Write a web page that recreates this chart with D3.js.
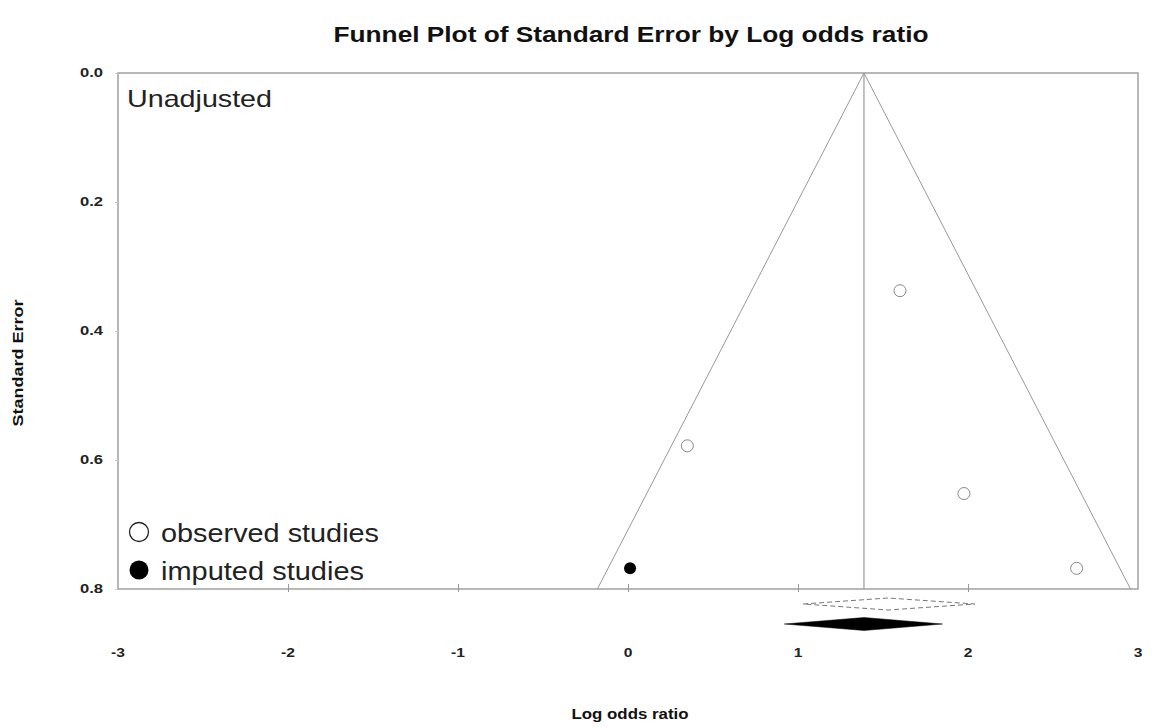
<!DOCTYPE html>
<html>
<head>
<meta charset="utf-8">
<script src="https://cdn.jsdelivr.net/npm/d3@7"></script>
<style>
  html, body { margin: 0; padding: 0; background: #fff; }
  svg { display: block; font-family: "Liberation Sans", Arial, sans-serif; }
</style>
</head>
<body>
<svg id="chart" width="1152" height="727"></svg>
<script>
// ---- data ----
const observedLogOR = [1.60, 0.349, 1.976, 2.639];
const observedSE    = [0.3375, 0.578, 0.652, 0.768];
const imputedLogOR  = [0.012];
const imputedSE     = [0.768];
const pooledEstimate = 1.388;          // funnel centre (unadjusted)
const observedDiamond = [1.03, 1.53, 2.04];   // lower, estimate, upper (dashed)
const combinedDiamond = [0.92, 1.388, 1.85];  // lower, estimate, upper (filled)
const xTicks = [-3, -2, -1, 0, 1, 2, 3];
const yTicks = [0.0, 0.2, 0.4, 0.6, 0.8];
const titleText = "Funnel Plot of Standard Error by Log odds ratio";
const xTitle = "Log odds ratio";
const yTitle = "Standard Error";
const panelLabel = "Unadjusted";
const legendLabels = ["observed studies", "imputed studies"];

// ---- layout ----
const svg = d3.select("#chart");
const pLeft = 118, pRight = 1138, pTop = 73, pBottom = 589;
const x = d3.scaleLinear().domain([-3, 3]).range([pLeft, pRight]);
const y = d3.scaleLinear().domain([0, 0.8]).range([pTop, pBottom]);
const gray = "#a0a0a0";

function stretch(sel, factor) {
  sel.each(function () {
    const w = this.getComputedTextLength();
    this.setAttribute("textLength", w * factor);
    this.setAttribute("lengthAdjust", "spacingAndGlyphs");
  });
}

// title
svg.append("text")
  .attr("x", 631).attr("y", 42)
  .attr("text-anchor", "middle")
  .attr("font-size", 22).attr("font-weight", "bold").attr("fill", "#111")
  .attr("textLength", 595).attr("lengthAdjust", "spacingAndGlyphs")
  .text(titleText);

// frame
svg.append("rect")
  .attr("x", pLeft).attr("y", pTop)
  .attr("width", pRight - pLeft).attr("height", pBottom - pTop)
  .attr("fill", "none").attr("stroke", gray).attr("stroke-width", 1.5);

// y axis ticks + labels
const yAxis = d3.axisLeft(y).tickValues(yTicks).tickFormat(d3.format(".1f")).tickSize(3).tickPadding(12);
const gy = svg.append("g").attr("transform", `translate(${pLeft},0)`).call(yAxis);
gy.select(".domain").remove();
gy.selectAll(".tick line").attr("stroke", "#ccc");
gy.selectAll(".tick text")
  .attr("font-size", 12).attr("font-weight", "bold").attr("fill", "#222")
  .attr("font-family", "Liberation Sans, Arial, sans-serif")
  .call(stretch, 1.38);

// x axis ticks (inside, upward) + labels (far below)
const xAxis = d3.axisBottom(x).tickValues(xTicks.slice(1, -1)).tickSize(-5).tickFormat("");
const gx = svg.append("g").attr("transform", `translate(0,${pBottom})`).call(xAxis);
gx.select(".domain").remove();
gx.selectAll(".tick line").attr("stroke", "#999").attr("y2", -5);
gx.selectAll(".tick").append("line").attr("y1", 0).attr("y2", 3).attr("stroke", "#999");

svg.append("g").selectAll("text").data(xTicks).join("text")
  .attr("x", d => x(d)).attr("y", 657)
  .attr("text-anchor", "middle")
  .attr("font-size", 12).attr("font-weight", "bold").attr("fill", "#222")
  .text(d => d)
  .call(stretch, 1.3);

// axis titles
svg.append("text")
  .attr("x", 630).attr("y", 719)
  .attr("text-anchor", "middle")
  .attr("font-size", 15).attr("font-weight", "bold").attr("fill", "#111")
  .attr("textLength", 117).attr("lengthAdjust", "spacingAndGlyphs")
  .text(xTitle);

svg.append("text")
  .attr("transform", "translate(23,363) rotate(-90)")
  .attr("text-anchor", "middle")
  .attr("font-size", 15).attr("font-weight", "bold").attr("fill", "#111")
  .attr("textLength", 127).attr("lengthAdjust", "spacingAndGlyphs")
  .text(yTitle);

// funnel
const seMax = 0.8;
svg.append("path")
  .attr("d", d3.line()([
    [x(pooledEstimate - 1.96 * seMax), y(seMax)],
    [x(pooledEstimate), y(0)],
    [x(pooledEstimate + 1.96 * seMax), y(seMax)]
  ]))
  .attr("fill", "none").attr("stroke", "#999").attr("stroke-width", 1);

svg.append("line")
  .attr("x1", x(pooledEstimate)).attr("x2", x(pooledEstimate))
  .attr("y1", y(0)).attr("y2", y(seMax))
  .attr("stroke", "#999").attr("stroke-width", 1.2);

// points
svg.append("g").selectAll("circle").data(d3.zip(observedLogOR, observedSE)).join("circle")
  .attr("cx", d => x(d[0])).attr("cy", d => y(d[1])).attr("r", 6)
  .attr("fill", "#fff").attr("stroke", "#888").attr("stroke-width", 1);

svg.append("g").selectAll("circle").data(d3.zip(imputedLogOR, imputedSE)).join("circle")
  .attr("cx", d => x(d[0])).attr("cy", d => y(d[1])).attr("r", 6)
  .attr("fill", "#000");

// diamonds
function diamond(vals, cy, h) {
  return d3.line()([
    [x(vals[0]), cy], [x(vals[1]), cy - h], [x(vals[2]), cy], [x(vals[1]), cy + h]
  ]) + "Z";
}
svg.append("path")
  .attr("d", diamond(observedDiamond, pBottom + 15, 6))
  .attr("fill", "none").attr("stroke", "#777").attr("stroke-width", 1)
  .attr("stroke-dasharray", "5,3");
svg.append("path")
  .attr("d", diamond(combinedDiamond, pBottom + 35, 6.5))
  .attr("fill", "#000").attr("stroke", "#000").attr("stroke-width", 0.5);

// panel label
svg.append("text")
  .attr("x", 127).attr("y", 107)
  .attr("font-size", 24).attr("fill", "#222")
  .attr("textLength", 145).attr("lengthAdjust", "spacingAndGlyphs")
  .text(panelLabel);

// legend
const legY = [532, 570];
const legW = [218, 203];
svg.append("circle").attr("cx", 139).attr("cy", legY[0]).attr("r", 9.5)
  .attr("fill", "#fff").attr("stroke", "#222").attr("stroke-width", 1.3);
svg.append("circle").attr("cx", 139).attr("cy", legY[1]).attr("r", 9.5)
  .attr("fill", "#000");
svg.append("g").selectAll("text").data(legendLabels).join("text")
  .attr("x", 161).attr("y", (d, i) => legY[i] + 10)
  .attr("font-size", 25).attr("fill", "#222")
  .attr("textLength", (d, i) => legW[i]).attr("lengthAdjust", "spacingAndGlyphs")
  .text(d => d);
</script>
</body>
</html>
